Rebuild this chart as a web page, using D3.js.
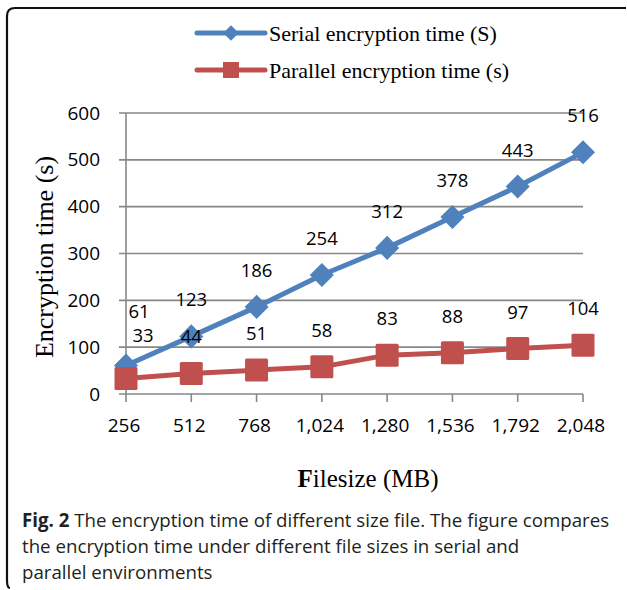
<!DOCTYPE html>
<html>
<head>
<meta charset="utf-8">
<script src="https://cdn.jsdelivr.net/npm/d3@7"></script>
<style>
  html, body { margin: 0; padding: 0; background: #fff; }
  svg { display: block; }
</style>
</head>
<body>
<svg id="chart" width="627" height="590"></svg>
<script>
// ---- data ----
const categories = ["256", "512", "768", "1,024", "1,280", "1,536", "1,792", "2,048"];
const serialValues = [61, 123, 186, 254, 312, 378, 443, 516];
const parallelValues = [33, 44, 51, 58, 83, 88, 97, 104];
const yTickValues = [0, 100, 200, 300, 400, 500, 600];
const seriesNames = ["Serial encryption time (S)", "Parallel encryption time (s)"];
const xTitle = ["F", "ilesize (MB)"];
const yTitle = "Encryption time (s)";
const captionBold = "Fig. 2";
const captionLines = [
  " The encryption time of different size file. The figure compares",
  "the encryption time under different file sizes in serial and",
  "parallel environments"
];

// ---- layout ----
const svg = d3.select("#chart");
const plot = { left: 126, right: 583, top: 113, bottom: 394 };
const blue = "#4F81BD", red = "#C0504D", gridColor = "#878787";
const tickFont = "'Open Sans', 'DejaVu Sans', sans-serif";
const serif = "'Liberation Serif', 'Times New Roman', serif";

const x = d3.scalePoint().domain(categories).range([plot.left, plot.right]);
const y = d3.scaleLinear().domain([0, 600]).range([plot.bottom, plot.top]);

// frame (rounded top-left & bottom-left)
svg.append("path")
  .attr("d", `M626,8 L15,8 Q7,8 7,16 L7,580 Q7,588 10,588`)
  .attr("fill", "none").attr("stroke", "#111").attr("stroke-width", 2.2);

// gridlines
const g = svg.append("g");
g.selectAll("line.grid").data(yTickValues).join("line")
  .attr("class", "grid")
  .attr("x1", plot.left - 7).attr("x2", plot.right)
  .attr("y1", d => y(d)).attr("y2", d => y(d))
  .attr("stroke", gridColor).attr("stroke-width", 1.6);

// y axis line
g.append("line")
  .attr("x1", plot.left).attr("x2", plot.left)
  .attr("y1", y(600)).attr("y2", y(0))
  .attr("stroke", gridColor).attr("stroke-width", 1.6);

// x ticks
g.selectAll("line.xt").data(categories).join("line")
  .attr("class", "xt")
  .attr("x1", d => x(d)).attr("x2", d => x(d))
  .attr("y1", y(0)).attr("y2", y(0) + 8)
  .attr("stroke", gridColor).attr("stroke-width", 1.6);

// y tick labels
g.selectAll("text.yl").data(yTickValues).join("text")
  .attr("class", "yl")
  .attr("x", plot.left - 26).attr("y", d => y(d))
  .attr("dy", "0.35em")
  .attr("text-anchor", "end")
  .attr("font-family", tickFont).attr("font-size", 19).attr("fill", "#000")
  .text(d => d);

// x tick labels
g.selectAll("text.xl").data(categories).join("text")
  .attr("class", "xl")
  .attr("x", d => x(d) - 2).attr("y", 432)
  .attr("text-anchor", "middle")
  .attr("font-family", tickFont).attr("font-size", 19).attr("fill", "#000")
  .text(d => d);

// lines
const line = d3.line().x((d, i) => x(categories[i])).y(d => y(d));

function drawSeries(vals, color, marker) {
  svg.append("path").datum(vals)
    .attr("d", line).attr("fill", "none")
    .attr("stroke", color).attr("stroke-width", 5)
    .attr("stroke-linejoin", "round").attr("stroke-linecap", "round");
  if (marker === "diamond") {
    svg.selectAll(null).data(vals).join("rect")
      .attr("x", -8.5).attr("y", -8.5).attr("width", 17).attr("height", 17)
      .attr("transform", (d, i) => `translate(${x(categories[i])},${y(d)}) rotate(45)`)
      .attr("fill", color);
  } else {
    svg.selectAll(null).data(vals).join("rect")
      .attr("x", (d, i) => x(categories[i]) - 11.5)
      .attr("y", d => y(d) - 11.5)
      .attr("width", 23).attr("height", 23).attr("rx", 1.5)
      .attr("fill", color);
  }
}
drawSeries(serialValues, blue, "diamond");
drawSeries(parallelValues, red, "square");

// data labels
function drawLabels(vals, firstNudge) {
  svg.selectAll(null).data(vals).join("text")
    .attr("x", (d, i) => x(categories[i]) + (i === 0 ? firstNudge[0] : 0))
    .attr("y", (d, i) => y(d) - 30 - (i === 0 ? firstNudge[1] : 0))
    .attr("text-anchor", "middle")
    .attr("font-family", tickFont).attr("font-size", 18.5).attr("fill", "#000")
    .text(d => d);
}
drawLabels(serialValues, [13, 17]);
drawLabels(parallelValues, [17, 7]);

// legend
const legend = svg.append("g");
const ly = [33, 70];
[blue, red].forEach((c, i) => {
  legend.append("line")
    .attr("x1", 197).attr("x2", 265).attr("y1", ly[i]).attr("y2", ly[i])
    .attr("stroke", c).attr("stroke-width", 5).attr("stroke-linecap", "round");
  if (i === 0) {
    legend.append("rect").attr("x", -5.5).attr("y", -5.5).attr("width", 11).attr("height", 11)
      .attr("transform", `translate(231,${ly[i]}) rotate(45)`).attr("fill", c);
  } else {
    legend.append("rect").attr("x", 231 - 8).attr("y", ly[i] - 8)
      .attr("width", 16).attr("height", 16).attr("fill", c);
  }
  legend.append("text")
    .attr("x", 269).attr("y", ly[i] + 8)
    .attr("font-family", serif).attr("font-size", 22).attr("fill", "#000")
    .text(seriesNames[i]);
});

// axis titles
svg.append("text")
  .attr("transform", `translate(53,${257}) rotate(-90)`)
  .attr("text-anchor", "middle")
  .attr("font-family", serif).attr("font-size", 26).attr("fill", "#000")
  .text(yTitle);

const xt = svg.append("text")
  .attr("x", 368).attr("y", 487)
  .attr("text-anchor", "middle")
  .attr("font-family", serif).attr("font-size", 25).attr("fill", "#000");
xt.append("tspan").attr("font-weight", "bold").text(xTitle[0]);
xt.append("tspan").text(xTitle[1]);

// caption
const capFont = "'Open Sans', 'Noto Sans', sans-serif";
const capY = [527, 553, 579];
captionLines.forEach((t, i) => {
  const tx = svg.append("text")
    .attr("x", 22).attr("y", capY[i])
    .attr("font-family", capFont).attr("font-size", 18.7).attr("fill", "#231f20");
  if (i === 0) tx.append("tspan").attr("font-weight", "bold").text(captionBold);
  tx.append("tspan").text(t);
});
</script>
</body>
</html>
